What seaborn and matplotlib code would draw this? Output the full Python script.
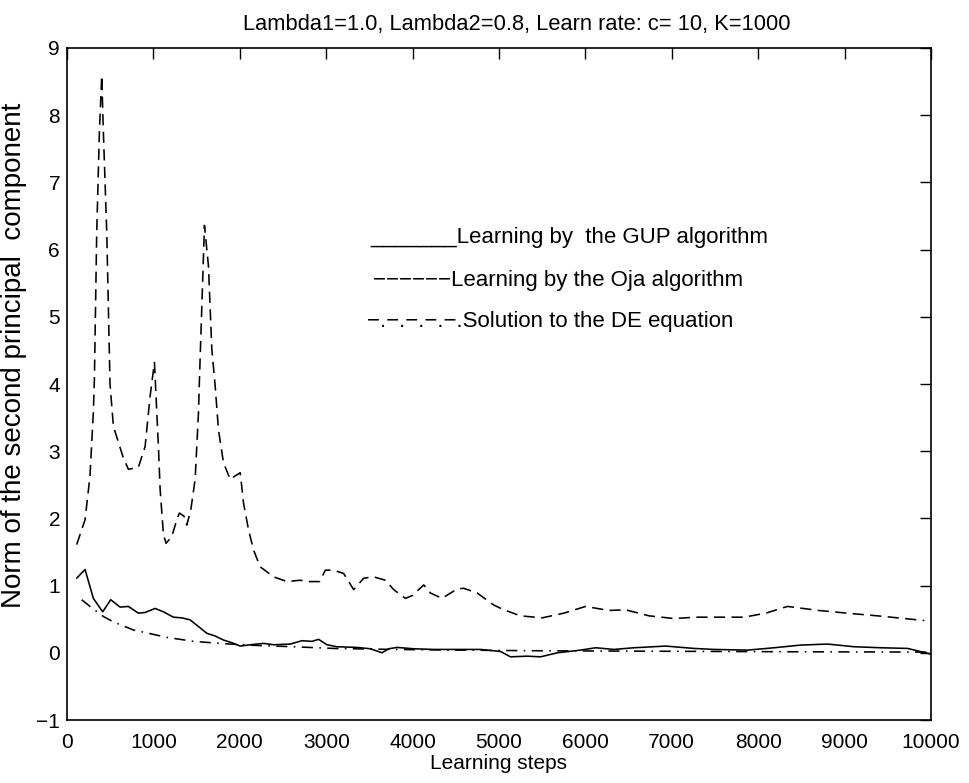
import matplotlib
matplotlib.use("Agg")
import matplotlib.pyplot as plt
import seaborn as sns
import pandas as pd

# ---- data ----
oja_x = [112, 209, 266, 305, 317, 344, 375, 402, 421, 460, 498, 537, 652, 711, 826, 904,
         962, 1012, 1058, 1078, 1116, 1147, 1213, 1271, 1301, 1356, 1387, 1433, 1483, 1522,
         1533, 1591, 1637, 1676, 1715, 1753, 1811, 1889, 1920, 2005, 2043, 2101, 2159, 2236,
         2391, 2546, 2700, 2777, 2924, 2990, 3086, 3202, 3318, 3434, 3549, 3685, 3781, 3917,
         3994, 4129, 4206, 4341, 4515, 4592, 4747, 4940, 5056, 5249, 5500, 5751, 6002, 6272,
         6466, 6736, 7025, 7277, 7837, 8088, 8339, 8700, 9111, 9382, 9923]
oja_y = [1.61, 1.98, 2.63, 3.58, 4.07, 6.26, 7.75, 8.59, 7.75, 6.26, 4.00, 3.37, 2.90, 2.73,
         2.76, 3.07, 3.82, 4.32, 3.07, 2.43, 1.76, 1.63, 1.73, 1.98, 2.08, 2.03, 1.90, 2.13,
         2.58, 3.58, 4.07, 6.36, 5.76, 4.52, 3.97, 3.32, 2.83, 2.58, 2.61, 2.68, 2.23, 1.83,
         1.53, 1.28, 1.13, 1.06, 1.08, 1.06, 1.06, 1.23, 1.23, 1.18, 0.94, 1.11, 1.13, 1.08,
         0.94, 0.81, 0.85, 1.01, 0.89, 0.81, 0.95, 0.96, 0.89, 0.71, 0.64, 0.55, 0.52, 0.59,
         0.69, 0.63, 0.64, 0.55, 0.51, 0.53, 0.53, 0.59, 0.69, 0.63, 0.58, 0.55, 0.48]

gup_x = [112, 209, 305, 413, 506, 614, 711, 826, 904, 1020, 1116, 1232, 1329, 1425, 1522,
         1619, 1715, 1811, 1908, 2005, 2120, 2275, 2391, 2584, 2719, 2835, 2912, 3009, 3125,
         3357, 3511, 3646, 3723, 3820, 4013, 4244, 4554, 4786, 5017, 5133, 5327, 5481, 5675,
         5944, 6118, 6330, 6562, 6929, 7257, 7489, 7876, 8184, 8494, 8803, 9111, 9421, 9730,
         10000]
gup_y = [1.11, 1.24, 0.81, 0.61, 0.79, 0.68, 0.69, 0.59, 0.60, 0.66, 0.61, 0.53, 0.52, 0.49,
         0.39, 0.29, 0.25, 0.19, 0.15, 0.10, 0.12, 0.14, 0.12, 0.13, 0.18, 0.17, 0.20, 0.12,
         0.09, 0.08, 0.06, 0.00, 0.06, 0.08, 0.06, 0.05, 0.05, 0.05, 0.02, -0.06, -0.05, -0.06,
         0.00, 0.04, 0.075, 0.05, 0.075, 0.10, 0.065, 0.05, 0.04, 0.075, 0.115, 0.13, 0.09,
         0.075, 0.065, -0.02]

de_x = [170, 266, 421, 537, 768, 1155, 1464, 1773, 2082, 2622, 3086, 3781, 4500, 5500,
        6500, 7500, 8500, 9500, 10000]
de_y = [0.79, 0.69, 0.54, 0.46, 0.34, 0.23, 0.17, 0.14, 0.115, 0.09, 0.065, 0.05, 0.04,
        0.03, 0.025, 0.02, 0.015, 0.012, 0.01]

x_ticks = [0, 1000, 2000, 3000, 4000, 5000, 6000, 7000, 8000, 9000, 10000]
y_ticks = [-1, 0, 1, 2, 3, 4, 5, 6, 7, 8, 9]

title = "Lambda1=1.0, Lambda2=0.8, Learn rate: c= 10, K=1000"
xlabel = "Learning steps"
ylabel = "Norm of the second principal  component"
legend_texts = ["_______Learning by  the GUP algorithm",
                "\u2212\u2212\u2212\u2212\u2212\u2212Learning by the Oja algorithm",
                "\u2212.\u2212.\u2212.\u2212.\u2212.Solution to the DE equation"]

# ---- plot ----
sns.set_theme(style="white")
plt.rcParams["font.family"] = ["Liberation Sans", "DejaVu Sans"]
plt.rcParams["axes.unicode_minus"] = True

fig = plt.figure(figsize=(9.69, 7.83), dpi=100)
ax = fig.add_axes([67 / 969, 1 - 720 / 783, 864 / 969, 672 / 783])

df_oja = pd.DataFrame({"x": oja_x, "y": oja_y})
df_gup = pd.DataFrame({"x": gup_x, "y": gup_y})
df_de = pd.DataFrame({"x": de_x, "y": de_y})

sns.lineplot(data=df_gup, x="x", y="y", ax=ax, color="black", lw=1.15, sort=False)
sns.lineplot(data=df_oja, x="x", y="y", ax=ax, color="black", lw=1.15, sort=False,
             linestyle=(0, (7, 4)))
sns.lineplot(data=df_de, x="x", y="y", ax=ax, color="black", lw=1.15, sort=False,
             linestyle=(0, (7, 4, 1, 4)))

ax.set_xlim(0, 10000)
ax.set_ylim(-1, 9)
ax.set_xticks(x_ticks)
ax.set_yticks(y_ticks)
ax.set_xticklabels([str(t) for t in x_ticks])
ax.set_yticklabels([str(t).replace("-", "\u2212") for t in y_ticks])
ax.tick_params(direction="in", length=8, width=1, top=True, right=True,
               labelsize=15, colors="black", pad=5)
ax.tick_params(axis="x", pad=9)
for s in ax.spines.values():
    s.set_visible(True)
    s.set_color("black")
    s.set_linewidth(1.2)

ax.set_title(title, fontsize=15.75, x=0.52, pad=13, color="black")
ax.set_xlabel(xlabel, fontsize=15, labelpad=2, color="black")
ax.set_ylabel(ylabel, fontsize=20, color="black")
ax.yaxis.set_label_coords(-0.046, 0.543)

leg_x = [370, 373, 367]
leg_y = [237, 280, 321]
for t, px, py in zip(legend_texts, leg_x, leg_y):
    fig.text(px / 969, 1 - py / 783, t, fontsize=16, ha="left", va="center", color="black")

fig.savefig("out.png", dpi=100, facecolor="white")
